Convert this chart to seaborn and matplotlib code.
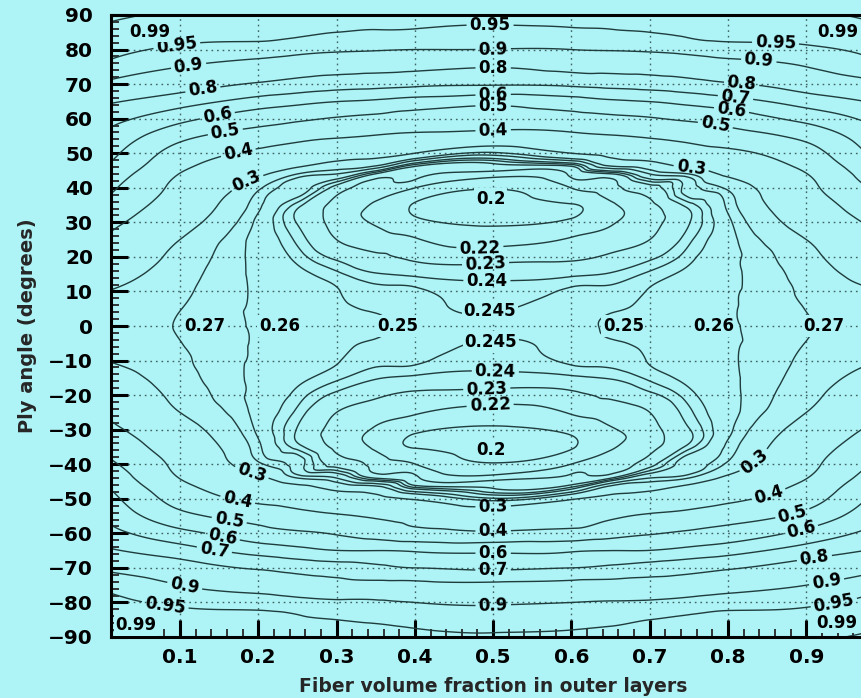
import numpy as np
import matplotlib
matplotlib.use("Agg")
import matplotlib.pyplot as plt
import matplotlib.tri as mtri
from matplotlib.ticker import MultipleLocator
import seaborn as sns

# ---------------- data ----------------
fiber_fraction = [0.012, 0.1, 0.2, 0.25, 0.3, 0.35, 0.4, 0.5, 0.6, 0.65, 0.7, 0.75, 0.8, 0.9, 0.988]
ply_angle = [90, 85, 80, 75, 70, 65, 60, 55, 50, 47, 44, 40, 35, 30, 25, 20, 15, 10, 5, 0,
             -5, -10, -15, -20, -25, -30, -35, -40, -44, -47, -50, -55, -60, -65, -70,
             -75, -80, -85, -90]
# estimated field value at each (ply angle row, fiber fraction column)
ratio = [
    [.995, .985, .980, .975, .970, .968, .965, .960, .965, .968, .970, .975, .980, .985, .995],   # 90
    [.982, .970, .965, .957, .950, .947, .945, .943, .945, .947, .950, .957, .965, .970, .982],   # 85
    [.965, .940, .930, .920, .910, .905, .900, .898, .900, .905, .910, .920, .930, .940, .965],   # 80
    [.935, .900, .870, .850, .835, .828, .822, .803, .822, .828, .835, .850, .870, .900, .935],   # 75
    [.885, .845, .790, .765, .746, .735, .722, .710, .722, .735, .746, .765, .790, .845, .885],   # 70
    [.810, .745, .660, .630, .602, .585, .560, .532, .560, .585, .602, .630, .660, .745, .810],   # 65
    [.730, .630, .540, .515, .493, .480, .466, .450, .466, .480, .493, .515, .540, .630, .730],   # 60
    [.672, .530, .460, .430, .410, .395, .381, .363, .381, .395, .410, .430, .460, .530, .672],   # 55
    [.625, .460, .380, .360, .336, .315, .300, .267, .300, .315, .336, .360, .380, .460, .625],   # 50
    [.595, .430, .345, .320, .290, .280, .248, .240, .248, .280, .290, .320, .345, .430, .595],   # 47
    [.560, .398, .310, .270, .260, .2395, .2319, .2257, .2319, .2395, .260, .270, .310, .398, .560],  # 44
    [.515, .375, .274, .2545, .2363, .227, .2203, .202, .2203, .227, .2363, .2545, .274, .375, .515],  # 40
    [.467, .350, .2625, .2425, .2275, .2175, .1985, .190, .1985, .2175, .2275, .2425, .2625, .350, .467],  # 35
    [.420, .325, .2575, .2395, .2265, .2185, .205, .196, .205, .2185, .2265, .2395, .2575, .325, .420],  # 30
    [.384, .300, .2565, .2435, .230, .225, .2215, .2142, .2215, .225, .230, .2435, .2565, .300, .384],  # 25
    [.355, .287, .2575, .2478, .238, .2318, .228, .2258, .228, .2318, .238, .2478, .2575, .287, .355],  # 20
    [.326, .279, .2585, .2525, .2463, .2407, .2384, .2367, .2384, .2407, .2463, .2525, .2585, .279, .326],  # 15
    [.298, .274, .2592, .2555, .2505, .2468, .2462, .2425, .2462, .2468, .2505, .2555, .2592, .274, .298],  # 10
    [.288, .2705, .2595, .2565, .2515, .2495, .2478, .2443, .2478, .2495, .2515, .2565, .2595, .2705, .288],  # 5
    [.285, .2685, .2597, .257, .2525, .2505, .2485, .2465, .2485, .2505, .2525, .257, .2597, .2685, .285],  # 0
    [.288, .2705, .2595, .2565, .2515, .2495, .2478, .2443, .2478, .2495, .2515, .2565, .2595, .2705, .288],  # -5
    [.298, .274, .2592, .2555, .2505, .2468, .2462, .2425, .2462, .2468, .2505, .2555, .2592, .274, .298],  # -10
    [.326, .279, .2585, .2525, .2463, .2407, .2384, .2367, .2384, .2407, .2463, .2525, .2585, .279, .326],  # -15
    [.355, .287, .2575, .2478, .238, .2318, .228, .2258, .228, .2318, .238, .2478, .2575, .287, .355],  # -20
    [.384, .300, .2565, .2435, .230, .225, .2215, .2142, .2215, .225, .230, .2435, .2565, .300, .384],  # -25
    [.420, .325, .2575, .2395, .2265, .2185, .205, .196, .205, .2185, .2265, .2395, .2575, .325, .420],  # -30
    [.467, .350, .2625, .2425, .2275, .2175, .1985, .190, .1985, .2175, .2275, .2425, .2625, .350, .467],  # -35
    [.515, .375, .274, .2545, .2363, .227, .2203, .202, .2203, .227, .2363, .2545, .274, .375, .515],  # -40
    [.560, .398, .310, .270, .260, .2395, .2319, .2257, .2319, .2395, .260, .270, .310, .398, .560],  # -44
    [.595, .430, .345, .320, .290, .280, .248, .240, .248, .280, .290, .320, .345, .430, .595],   # -47
    [.625, .460, .380, .360, .336, .315, .295, .262, .295, .315, .336, .360, .380, .460, .625],   # -50
    [.672, .530, .460, .430, .410, .390, .370, .345, .370, .390, .410, .430, .460, .530, .672],   # -55
    [.730, .630, .540, .515, .493, .460, .430, .415, .430, .460, .493, .515, .540, .630, .730],   # -60
    [.810, .745, .660, .630, .602, .600, .590, .580, .590, .600, .602, .630, .660, .745, .810],   # -65
    [.885, .845, .790, .765, .746, .720, .700, .685, .700, .720, .746, .765, .790, .845, .885],   # -70
    [.935, .900, .870, .850, .835, .835, .835, .825, .835, .835, .835, .850, .870, .900, .935],   # -75
    [.965, .940, .930, .920, .910, .905, .900, .895, .900, .905, .910, .920, .930, .940, .965],   # -80
    [.982, .970, .965, .957, .950, .942, .935, .930, .935, .942, .950, .957, .965, .970, .982],   # -85
    [.995, .985, .980, .975, .970, .965, .960, .955, .960, .965, .970, .975, .980, .985, .995],   # -90
]
contour_levels = [0.2, 0.22, 0.23, 0.24, 0.245, 0.25, 0.26, 0.27, 0.3, 0.4, 0.5,
                  0.6, 0.7, 0.8, 0.9, 0.95, 0.99]
x_tick_values = [0.1, 0.2, 0.3, 0.4, 0.5, 0.6, 0.7, 0.8, 0.9]
y_tick_values = list(range(-90, 91, 10))

# ---------------- label placement (layout) ----------------
inline_label_level = [0.95, 0.9, 0.8, 0.6, 0.5, 0.4, 0.3,
                      0.95, 0.9, 0.8, 0.6, 0.5, 0.4, 0.22, 0.23, 0.24,
                      0.95, 0.9, 0.8, 0.7, 0.6, 0.5, 0.3,
                      0.24, 0.23, 0.22, 0.3, 0.4, 0.6, 0.7, 0.9,
                      0.3, 0.4, 0.5, 0.6, 0.8, 0.9, 0.95,
                      0.3, 0.4, 0.5, 0.6, 0.7, 0.9, 0.95]
inline_label_pos = [(0.096, 81.3), (0.11, 77), (0.129, 68.9), (0.147, 61.9), (0.157, 57.6),
                    (0.173, 51.8), (0.18, 44.6),
                    (0.496, 86.5), (0.5, 80.2), (0.5, 74.7), (0.5, 66.9), (0.5, 62.5),
                    (0.5, 56.7), (0.483, 23.4), (0.49, 19.1), (0.492, 14.2),
                    (0.861, 84.8), (0.84, 79), (0.818, 71.8), (0.81, 67.4), (0.804, 61.9),
                    (0.783, 57.3), (0.754, 48),
                    (0.503, -11.3), (0.492, -19.4), (0.497, -26.3),
                    (0.5, -52.4), (0.5, -59), (0.5, -65.7), (0.5, -72.6), (0.5, -79.8),
                    (0.84, -40.8), (0.851, -48.3), (0.882, -54.1), (0.893, -59),
                    (0.911, -68.3), (0.925, -72.9), (0.934, -78.7),
                    (0.192, -42.2), (0.173, -51.2), (0.163, -56.1), (0.154, -61.3),
                    (0.143, -66.2), (0.105, -76.4), (0.081, -81.3)]
free_label_text = ["0.27", "0.26", "0.25", "0.25", "0.26", "0.27",
                   "0.245", "0.245",
                   "0.2", "0.2", "0.99", "0.99", "0.99", "0.99"]
free_label_pos = [(0.106, 0), (0.201, 0), (0.352, 0), (0.64, 0), (0.755, 0), (0.896, 0),
                  (0.496, 4.2), (0.497, -4.6),
                  (0.497, 36.8), (0.497, -35.9), (0.062, 85.2), (0.94, 85.2),
                  (0.044, -86.5), (0.939, -85.9)]
free_label_align = ["left"] * 6 + ["center"] * 8

BG = "#aef3f6"
LINE = "#1f3d3d"

sns.set_style("ticks")
plt.rcParams["font.family"] = ["DejaVu Sans"]
plt.rcParams["font.weight"] = "bold"
plt.rcParams["axes.labelweight"] = "bold"

fig = plt.figure(figsize=(8.62, 6.98), dpi=100)
fig.patch.set_facecolor(BG)
ax = fig.add_axes([111 / 862, 61 / 698, (875.3 - 111) / 862, 622 / 698])
ax.set_facecolor(BG)

# grid -> triangulation (angle scaled to a unit range for the smooth interpolator)
X, Y = np.meshgrid(fiber_fraction, ply_angle)
Z = np.array(ratio, dtype=float)
nr, nc = Z.shape
tris = []
for i in range(nr - 1):
    for j in range(nc - 1):
        a = i * nc + j
        b = a + 1
        c = a + nc
        d = c + 1
        tris.append([c, d, b])
        tris.append([c, b, a])
tri_s = mtri.Triangulation(X.ravel(), Y.ravel() / 180.0, np.array(tris))
interp = mtri.CubicTriInterpolator(tri_s, Z.ravel(), kind="min_E")
refiner = mtri.UniformTriRefiner(tri_s)
tri_r, z_r = refiner.refine_field(Z.ravel(), triinterpolator=interp, subdiv=4)
tri_d = mtri.Triangulation(tri_r.x, tri_r.y * 180.0, tri_r.triangles)

fmt = lambda v: f"{v:g}"
for lev in contour_levels:
    cs = ax.tricontour(tri_d, z_r, levels=[lev], colors=LINE, linewidths=1.0, zorder=2)
    spots = [p for l, p in zip(inline_label_level, inline_label_pos) if l == lev]
    if spots:
        ax.clabel(cs, manual=spots, inline=True, inline_spacing=3, fmt=fmt,
                  fontsize=12, colors="black")

for txt, pos, ha in zip(free_label_text, free_label_pos, free_label_align):
    ax.text(pos[0], pos[1], txt, ha=ha, va="center", fontsize=12, color="black",
            zorder=5, bbox=dict(boxstyle="square,pad=0.1", fc=BG, ec="none"))

ax.set_xlim(0.012, 0.988)
ax.set_ylim(-90, 90)
ax.set_xticks(x_tick_values)
ax.set_xticklabels([f"{v:g}" for v in x_tick_values])
ax.set_yticks(y_tick_values)
ax.xaxis.set_minor_locator(MultipleLocator(0.02))
ax.yaxis.set_minor_locator(MultipleLocator(2))

ax.grid(True, which="major", color="#3f6464", linestyle=(0, (1.2, 2.8)), linewidth=1.0)
ax.set_axisbelow(True)

ax.tick_params(which="major", direction="in", length=12, width=2.2, colors="black",
               labelsize=14.5, top=False, right=False, pad=8)
ax.tick_params(which="minor", direction="in", length=6, width=1.3, top=False, right=False)
ax.tick_params(axis="y", which="major", pad=13)
for sp in ax.spines.values():
    sp.set_linewidth(2.2)
    sp.set_color("black")

ax.set_xlabel("Fiber volume fraction in outer layers", fontsize=13.5, fontweight="bold",
              labelpad=7)
ax.set_ylabel("Ply angle (degrees)", fontsize=14, fontweight="bold", labelpad=8)

fig.savefig("out.png", dpi=100, facecolor=BG)
